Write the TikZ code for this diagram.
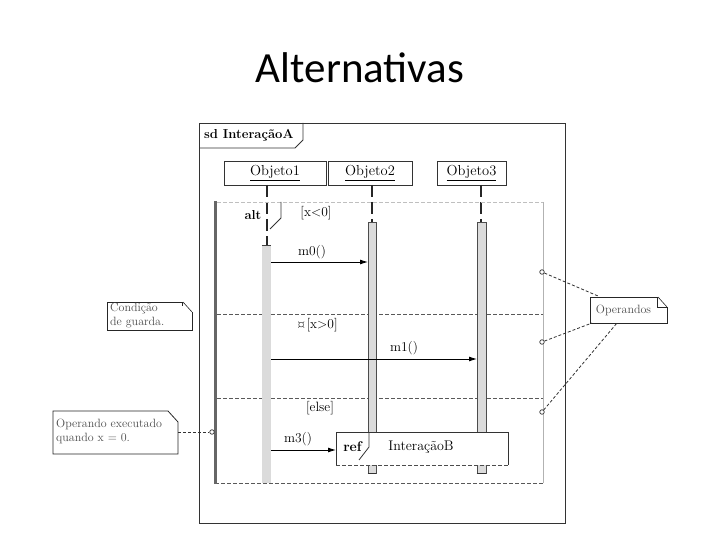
\documentclass[tikz,border=0pt]{standalone}
\usepackage{fontspec}
\newfontfamily\titlefont{Carlito}
\usetikzlibrary{arrows.meta}
\tikzset{
  frameline/.style={draw=black!80, line width=0.8pt},
  objbox/.style={draw=black!80, line width=0.9pt, fill=white, inner sep=0pt, font=\fontsize{14.5}{15}\selectfont},
  lifeline/.style={draw=black!85, line width=1.3pt, dash pattern=on 12pt off 5pt},
  actbarA/.style={fill=black!14, draw=none},
  actbarB/.style={fill=black!14, draw=black!70, line width=0.8pt},
  sepline/.style={draw=black!65, line width=0.9pt, dash pattern=on 4pt off 2pt},
  msg/.style={draw=black, line width=0.9pt, -{Latex[length=8pt,width=5pt]}},
  lbl/.style={inner sep=0pt, font=\fontsize{13.5}{14}\selectfont, text=black},
  notebox/.style={draw=black!85, line width=0.8pt},
  notetext/.style={inner sep=0pt, anchor=west, font=\fontsize{12}{14}\selectfont, text=black!70, align=left},
  conn/.style={draw=black!80, line width=0.8pt, dash pattern=on 3pt off 2pt},
  pin/.style={circle, draw=black!80, fill=white, line width=0.7pt, inner sep=0pt, minimum size=4.5pt}
}
\begin{document}
\begin{tikzpicture}[x=1pt,y=-1pt]
\useasboundingbox (0,0) rectangle (720,540);
\node[inner sep=0pt, font=\titlefont\fontsize{43}{45}\selectfont] (title) at (360,68) {Alternativas};

% outer sd frame
\draw[frameline] (199,123) rectangle (565,523);
\draw[frameline] (199,148) -- (295,148) -- (303,140) -- (303,123);
\node[inner sep=0pt, anchor=west, font=\bfseries\fontsize{13}{14}\selectfont] (sd) at (204,135.5) {sd InteraçãoA};

% objects
\node[objbox, minimum width=102pt, minimum height=24pt] (o1) at (275,173) {\underline{Objeto1}};
\node[objbox, minimum width=84pt, minimum height=24pt] (o2) at (370,173) {\underline{Objeto2}};
\node[objbox, minimum width=69pt, minimum height=24pt] (o3) at (471.5,173) {\underline{Objeto3}};

% lifelines
\coordinate (l1top) at (267,185); \coordinate (l1bot) at (267,246);
\coordinate (l2top) at (372,185); \coordinate (l2bot) at (372,222);
\coordinate (l3top) at (481,185); \coordinate (l3bot) at (481,222);
\draw[lifeline] (l1top) -- (l1bot);
\draw[lifeline] (l2top) -- (l2bot);
\draw[lifeline] (l3top) -- (l3bot);

% alt fragment
\draw[draw=black!25, line width=0.8pt, dash pattern=on 4pt off 2pt] (217,202) -- (543,202);
\draw[draw=black!30, line width=0.8pt] (543,202) -- (543,483);
\draw[sepline] (215,483) -- (543,483);
\draw[sepline] (217,314) -- (543,314);
\draw[sepline] (217,398) -- (543,398);
\draw[draw=black!60, line width=3pt] (215,201) -- (215,484);
\draw[frameline] (281,202) -- (281,218) -- (270,229);
\node[inner sep=0pt, font=\bfseries\fontsize{13}{14}\selectfont] (alt) at (253,215) {alt};

% activation bars
\node[actbarA, minimum width=9pt, minimum height=237pt, inner sep=0pt] (b1) at (266.5,364.5) {};
\draw[black!75, line width=1pt] (b1.north west) -- (b1.north east);
\node[actbarB, minimum width=8pt, minimum height=251pt, inner sep=0pt] (b2) at (372,347.5) {};
\node[actbarB, minimum width=9pt, minimum height=251pt, inner sep=0pt] (b3) at (481.5,347.5) {};
\draw[black!80, line width=1.2pt] (b2.south west) -- (b2.south east);
\draw[black!80, line width=1.2pt] (b3.south west) -- (b3.south east);

% guards
\node[lbl] (g1) at (316,213) {[x<0]};
\node[lbl] (g2) at (317,325) {¤[x>0]};
\node[lbl] (g3) at (320,408) {[else]};

% ref box
\fill[white] (336,432) rectangle (508,465);
\coordinate (rnw) at (336,432); \coordinate (rne) at (508,432);
\coordinate (rsw) at (336,465); \coordinate (rse) at (508,465);
\draw[frameline] (rsw) -- (rnw) -- (rne) -- (rse);
\draw[sepline, draw=black!70] (rsw) -- (rse);
\draw[frameline] (369,432) -- (369,447) -- (359,460);
\node[inner sep=0pt, font=\bfseries\fontsize{14}{15}\selectfont] (reflbl) at (352.5,447) {ref};
\node[inner sep=0pt, font=\fontsize{14}{15}\selectfont, text=black] (refname) at (421,447) {InteraçãoB};

% messages
\coordinate (m0s) at (271,262); \coordinate (m0e) at (368,262);
\draw[msg] (m0s) -- (m0e);
\node[lbl] (m0) at (312,252) {m0()};
\coordinate (m1s) at (271,359); \coordinate (m1e) at (477,359);
\draw[msg] (m1s) -- (m1e);
\node[lbl] (m1) at (404,348) {m1()};
\coordinate (m3s) at (271,450);
\draw[msg] (m3s) -- (rsw |- m3s);
\node[lbl] (m3) at (298,439) {m3()};

% note: Condicao de guarda
\draw[notebox] (182,302) -- (107,302) -- (107,330) -- (192,330) -- (192,312);
\draw[notebox, line width=0.6pt] (182,302) -- (182,306);
\draw[notebox, line width=0.6pt] (183,302) -- (192,312);
\node[notetext] (n1) at (110,316) {Condição\\de guarda.};

% note: Operandos
\draw[draw=black!30, line width=0.6pt] (590,297) -- (657,297);
\draw[notebox] (590,297) -- (590,323) -- (667,323) -- (667,307) -- (657,307) -- (657,297) -- cycle;
\draw[notebox, line width=0.6pt] (658,297) -- (667,307);
\node[inner sep=0pt, font=\fontsize{12}{14}\selectfont, text=black!70] (n2) at (623.5,310.5) {Operandos};

% note: Operando executado quando x = 0.
\draw[notebox] (168,411) -- (53,411) -- (53,454) -- (178,454) -- (178,422) -- (168,411);
\node[notetext] (n3) at (56,431) {Operando executado\\quando x = 0.};

% connectors
\node[pin] (p1) at (542,272) {};
\node[pin] (p2) at (542,342) {};
\node[pin] (p3) at (542,412) {};
\node[pin] (p4) at (212,432) {};
\coordinate (c1) at (598,296);
\coordinate (c2) at (592,323);
\coordinate (c3) at (617,323);
\coordinate (c4) at (178,432);
\draw[conn] (p1) -- (c1);
\draw[conn] (p2) -- (c2);
\draw[conn] (p3) -- (c3);
\draw[conn] (c4) -- (p4);
\end{tikzpicture}
\end{document}
